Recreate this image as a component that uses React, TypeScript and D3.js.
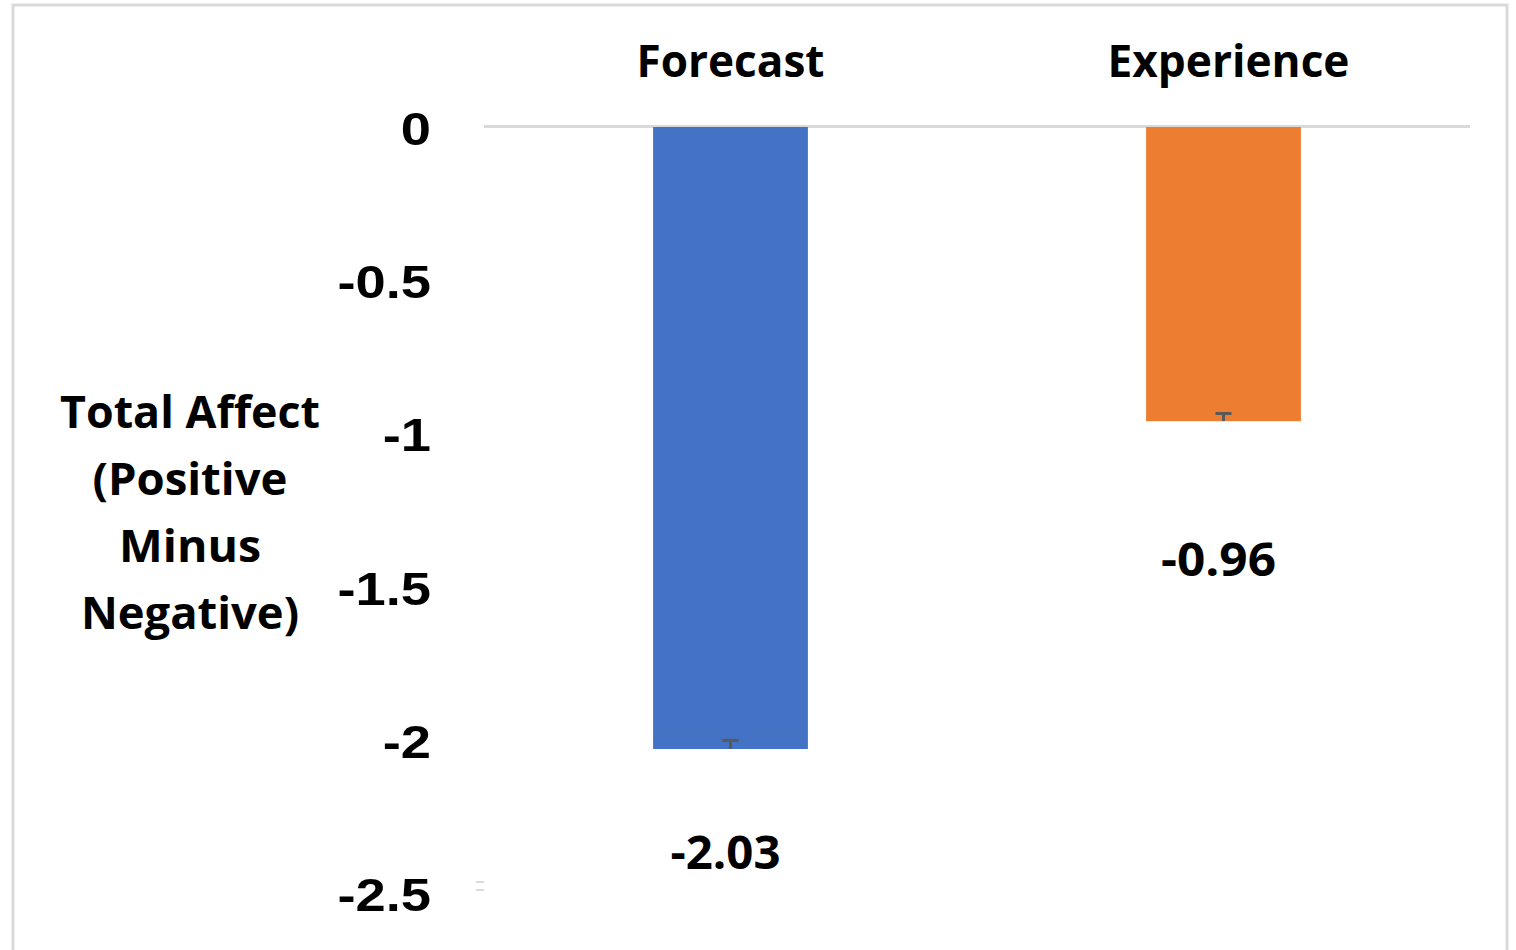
import React from "react";
import * as d3 from "d3";

// chart data
const categories = ["Forecast", "Experience"];
const values = [-2.03, -0.96];
const errors = [0.028, 0.025];
const colors = ["#4472C4", "#ED7D31"];
const yTicks = [0, -0.5, -1, -1.5, -2, -2.5];
const titleLines = ["Total Affect", "(Positive", "Minus", "Negative)"];

const W = 1516;
const H = 950;
const calibri = "'Open Sans', Lato, sans-serif";
const arial = "'Liberation Sans', Arial, sans-serif";

export default function App() {
  const y = d3.scaleLinear().domain([-2.5, 0]).range([893, 127]);
  const x = d3
    .scaleBand()
    .domain(categories)
    .range([484, 1470])
    .paddingInner(0.686)
    .paddingOuter(0.343);

  // label widths (Calibri stand-in)
  const catWidth = [188, 242];
  const valWidth = [110, 115];
  const valOffset = [120, 155];
  const titleWidth = [260, 195, 142, 218];

  return (
    <svg
      width={W}
      height={H}
      style={{ position: "absolute", left: 0, top: 0, background: "#fff" }}
    >
      {/* outer frame */}
      <path
        d={`M13,${H + 10} V5 H1507 V${H + 10}`}
        fill="none"
        stroke="#d9d9d9"
        strokeWidth={3}
      />

      {/* zero line */}
      <line x1={484} x2={1470} y1={y(0) - 0.5} y2={y(0) - 0.5} stroke="#d9d9d9" strokeWidth={3} />

      {/* leftover tick marks near the bottom */}
      {[-11, -3].map((d, i) => (
        <line key={i} x1={476} x2={484} y1={y(-2.5) + d} y2={y(-2.5) + d} stroke="#d9d9d9" strokeWidth={2} />
      ))}

      {/* bars */}
      {categories.map((c, i) => (
        <rect
          key={c}
          x={x(c)}
          y={y(0)}
          width={x.bandwidth()}
          height={y(values[i]) - y(0)}
          fill={colors[i]}
        />
      ))}

      {/* error bars */}
      {categories.map((c, i) => {
        const cx = (x(c) as number) + x.bandwidth() / 2;
        const top = y(values[i] + errors[i]);
        return (
          <g key={c} stroke="#595959" strokeWidth={3}>
            <line x1={cx - 8} x2={cx + 8} y1={top} y2={top} />
            <line x1={cx} x2={cx} y1={top} y2={y(values[i])} />
          </g>
        );
      })}

      {/* category labels */}
      {categories.map((c, i) => (
        <text
          key={c}
          x={(x(c) as number) + x.bandwidth() / 2 + (i === 1 ? 5 : 0)}
          y={77}
          textAnchor="middle"
          fontFamily={calibri}
          fontWeight={700}
          fontSize={45}
          textLength={catWidth[i]}
          lengthAdjust="spacingAndGlyphs"
          fill="#000"
        >
          {c}
        </text>
      ))}

      {/* value labels */}
      {categories.map((c, i) => (
        <text
          key={c}
          x={(x(c) as number) + x.bandwidth() / 2 - 5}
          y={y(values[i]) + valOffset[i]}
          textAnchor="middle"
          fontFamily={calibri}
          fontWeight={700}
          fontSize={46}
          textLength={valWidth[i]}
          lengthAdjust="spacingAndGlyphs"
          fill="#000"
        >
          {values[i].toFixed(2)}
        </text>
      ))}

      {/* y tick labels */}
      {yTicks.map((t) => (
        <g key={t} transform={`translate(431,${y(t) + 18}) scale(1.18,1)`}>
          <text
            textAnchor="end"
            fontFamily={arial}
            fontWeight={700}
            fontSize={46}
            fill="#000"
          >
            {String(t)}
          </text>
        </g>
      ))}

      {/* y axis title */}
      {titleLines.map((l, i) => (
        <text
          key={l}
          x={190}
          y={428 + i * 67}
          textAnchor="middle"
          fontFamily={calibri}
          fontWeight={700}
          fontSize={44}
          textLength={titleWidth[i]}
          lengthAdjust="spacingAndGlyphs"
          fill="#000"
        >
          {l}
        </text>
      ))}
    </svg>
  );
}
